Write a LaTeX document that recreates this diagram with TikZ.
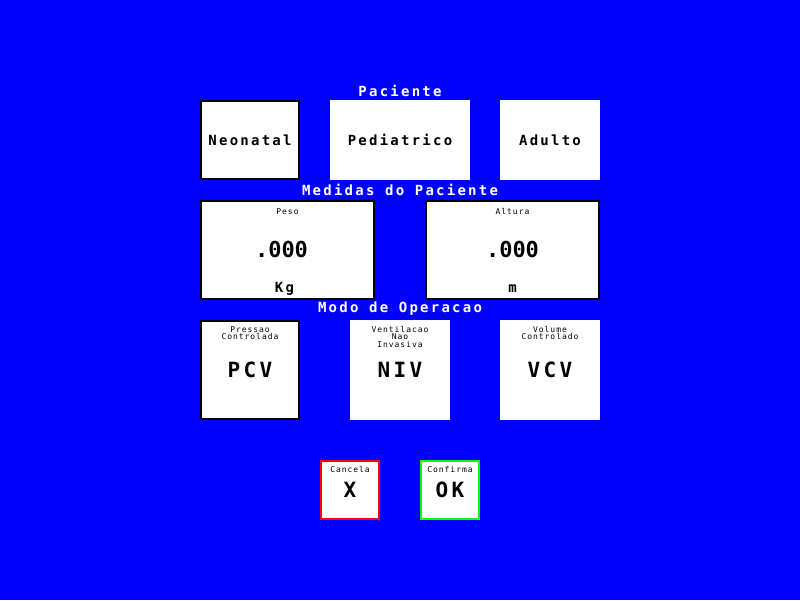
\documentclass[tikz,border=0pt]{standalone}
\usepackage{fontspec}
\usetikzlibrary{positioning}
\newfontfamily\pixfont[LetterSpace=16]{DejaVu Sans Mono}
\newfontfamily\tinyfont[LetterSpace=12]{DejaVu Sans Mono}
\newfontfamily\valfont{DejaVu Sans Mono}
\definecolor{screenBlue}{RGB}{0,0,255}
\definecolor{cancelRed}{RGB}{255,0,0}
\definecolor{okGreen}{RGB}{0,255,0}
\tikzstyle{optBox} = [rectangle, fill=white, text centered, inner sep=0pt, minimum width=100pt, minimum height=100pt, font=\fontsize{14}{14}\pixfont\bfseries]
\tikzstyle{selBox} = [optBox, draw=black, line width=2pt]
\tikzstyle{headText} = [text=white, inner sep=0pt, font=\fontsize{14}{14}\pixfont\bfseries]
\tikzstyle{midText} = [inner sep=0pt, anchor=base, font=\fontsize{14}{14}\pixfont\bfseries]
\tikzstyle{bigText} = [inner sep=0pt, anchor=base, font=\fontsize{21}{21}\pixfont\bfseries]
\tikzstyle{valText} = [inner sep=0pt, font=\fontsize{22}{22}\valfont\bfseries]
\tikzstyle{tinyText} = [inner sep=0pt, anchor=north, align=center, font=\fontsize{8}{7.5}\tinyfont]

\begin{document}
\begin{tikzpicture}[x=1pt,y=-1pt]
	\fill[screenBlue] (0,0) rectangle (800,600);
	\useasboundingbox (0,0) rectangle (800,600);

	% paciente
	\node [headText] (hPac) at (400,91) {Paciente};
	\node [selBox, minimum width=98pt, minimum height=78pt] (neonatal) at (250,140) {Neonatal};
	\node [optBox, minimum width=140pt, minimum height=80pt] (pediatrico) at (400,140) {Pediatrico};
	\node [optBox, minimum height=80pt] (adulto) at (550,140) {Adulto};

	% medidas
	\node [headText] (hMed) at (400,190) {Medidas do Paciente};
	\node [selBox, minimum width=173pt, minimum height=98pt] (peso) at (287.5,250) {};
	\node [selBox, minimum width=173pt, minimum height=98pt] (altura) at (512.5,250) {};
	\node [tinyText, yshift=-8pt] (pesoLbl) at (peso.north) {Peso};
	\node [tinyText, yshift=-8pt] (alturaLbl) at (altura.north) {Altura};
	\node [valText, xshift=-6pt, yshift=1pt] (pesoVal) at (peso.center) {.000};
	\node [valText, yshift=1pt] (alturaVal) at (altura.center) {.000};
	\node [midText, xshift=-3pt, yshift=8pt] (pesoUn) at (peso.south) {Kg};
	\node [midText, yshift=8pt] (alturaUn) at (altura.south) {m};

	% modo
	\node [headText] (hModo) at (400,309) {Modo de Operacao};
	\node [selBox, minimum width=98pt, minimum height=98pt] (pcv) at (250,370) {};
	\node [optBox] (niv) at (400,370) {};
	\node [optBox] (vcv) at (550,370) {};
	\node [tinyText, yshift=-6pt] (pcvLbl) at (pcv.north) {Pressao\\Controlada};
	\node [tinyText, yshift=-6pt] (nivLbl) at (niv.north) {Ventilacao\\Nao\\Invasiva};
	\node [tinyText, yshift=-6pt] (vcvLbl) at (vcv.north) {Volume\\Controlado};
	\node [bigText, yshift=-7pt] (pcvTxt) at (pcv.center) {PCV};
	\node [bigText, yshift=-7pt] (nivTxt) at (niv.center) {NIV};
	\node [bigText, yshift=-7pt] (vcvTxt) at (vcv.center) {VCV};

	% botoes
	\node [optBox, draw=cancelRed, line width=2pt, minimum width=58pt, minimum height=58pt] (cancela) at (350,490) {};
	\node [optBox, draw=okGreen, line width=2pt, minimum width=58pt, minimum height=58pt] (confirma) at (450,490) {};
	\node [tinyText, yshift=-6pt] (cancelaLbl) at (cancela.north) {Cancela};
	\node [tinyText, yshift=-6pt] (confirmaLbl) at (confirma.north) {Confirma};
	\node [bigText, yshift=-7pt] (cancelaTxt) at (cancela.center) {X};
	\node [bigText, yshift=-7pt] (confirmaTxt) at (confirma.center) {OK};
\end{tikzpicture}
\end{document}
